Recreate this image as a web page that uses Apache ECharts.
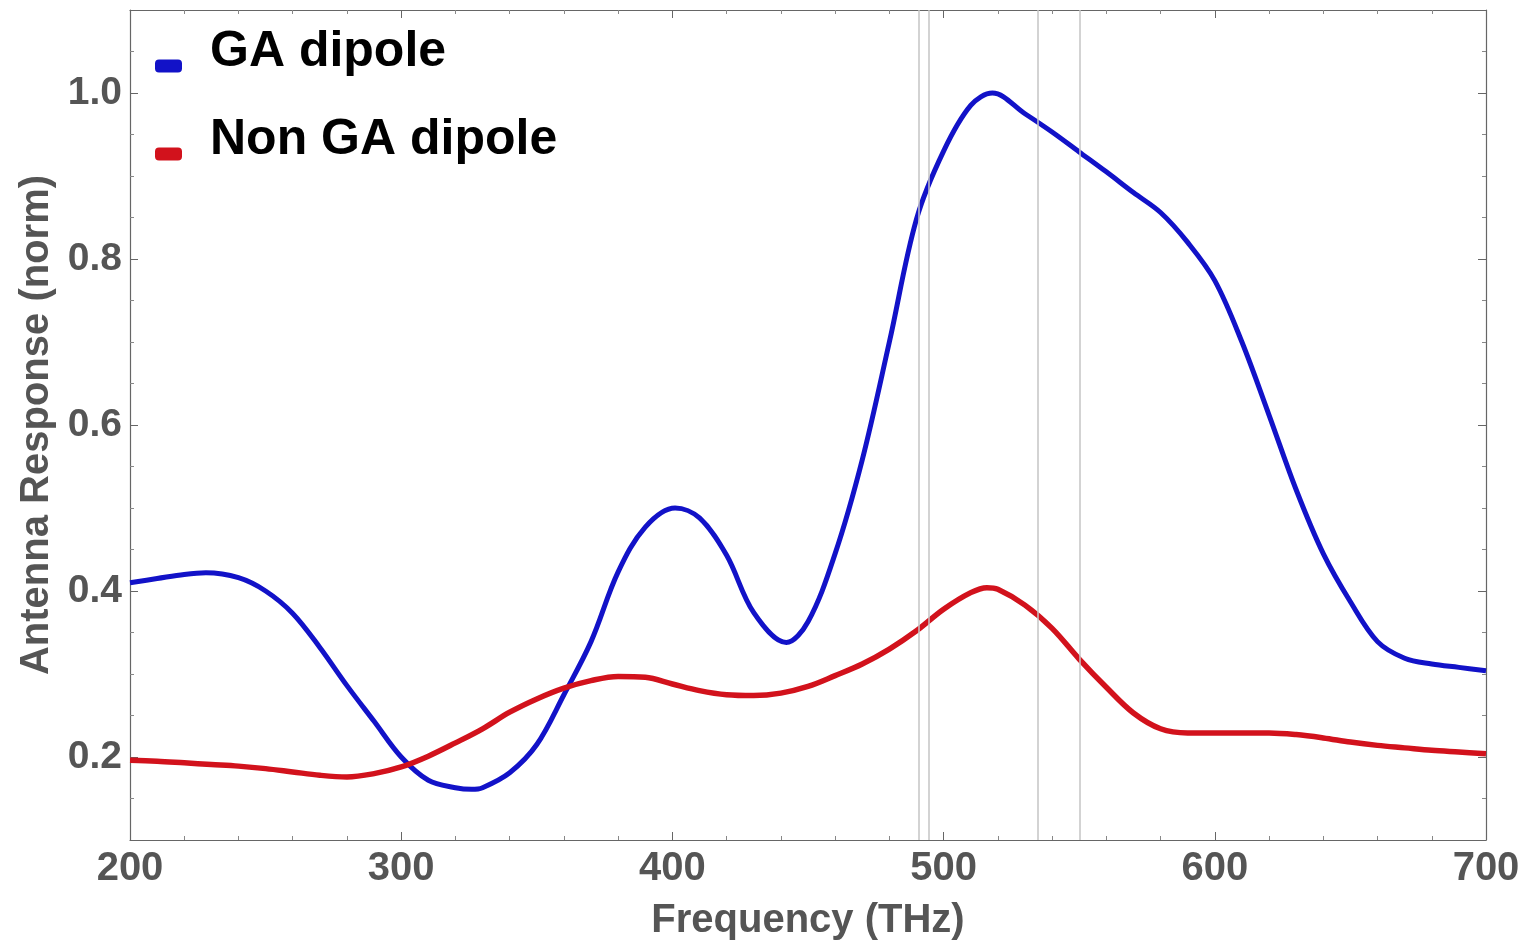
<!DOCTYPE html>
<html><head><meta charset="utf-8">
<script src="https://cdn.jsdelivr.net/npm/echarts@6/dist/echarts.min.js"></script>
<style>html,body{margin:0;padding:0;background:#fff}#c{width:1524px;height:946px}</style>
</head><body><div id="c"></div>
<script>
// ---- data ----
const gaFreq = [200,210,220,228,240,250,260,270,280,290,300,310,320,326,330,340,350,360,370,380,390,401,410,420,430,442,450,460,470,480,490,500,510,518,530,540,550,560,570,580,590,600,610,620,630,640,650,660,670,680,690,700];
const gaDipole = [0.410,0.415,0.420,0.422,0.416,0.400,0.373,0.332,0.286,0.243,0.200,0.172,0.163,0.161,0.163,0.181,0.215,0.275,0.339,0.423,0.477,0.500,0.488,0.443,0.374,0.338,0.363,0.445,0.558,0.700,0.848,0.930,0.985,1.000,0.975,0.953,0.929,0.905,0.880,0.856,0.820,0.774,0.700,0.612,0.522,0.445,0.387,0.339,0.319,0.312,0.308,0.304];
const nonGaFreq = [200,210,220,230,240,250,260,270,280,290,300,310,320,330,340,350,360,370,380,390,400,410,420,430,440,450,460,470,480,490,500,510,516,520,530,540,550,560,570,580,590,600,610,620,630,640,650,660,670,680,690,700];
const nonGaDipole = [0.196,0.195,0.193,0.191,0.189,0.186,0.182,0.178,0.176,0.180,0.188,0.201,0.217,0.234,0.254,0.270,0.283,0.292,0.297,0.296,0.288,0.280,0.275,0.274,0.277,0.285,0.298,0.312,0.330,0.352,0.378,0.398,0.404,0.402,0.383,0.355,0.318,0.284,0.253,0.234,0.229,0.229,0.229,0.229,0.227,0.223,0.218,0.214,0.211,0.208,0.206,0.204];
const markerFreqs = [490.8, 494.6, 534.6, 550.2];
const yMajorTicks = [0.2, 0.4, 0.6, 0.8, 1.0];
const yMinorTicks = [0.15,0.25,0.3,0.35,0.45,0.5,0.55,0.65,0.7,0.75,0.85,0.9,0.95,1.05];
const seriesNames = ['GA dipole', 'Non GA dipole'];

const FONT = 'Liberation Sans, Arial, Helvetica, sans-serif';
const AXIS_COLOR = '#666';
const LABEL_COLOR = '#555';
const BLUE = '#1212c8';
const RED = '#d2121c';
// legend key drawn in the lower part of the item box (like the reference)
const LEGEND_ICON = 'path://M0,0 L0.01,0 M4,28 L23,28 Q27,28 27,32 L27,37 Q27,41 23,41 L4,41 Q0,41 0,37 L0,32 Q0,28 4,28 Z';

const chart = echarts.init(document.getElementById('c'), null, {renderer: 'canvas'});

const xCommon = {
  type: 'value', min: 200, max: 700, interval: 100,
  axisLine: {show: true, onZero: false, lineStyle: {color: AXIS_COLOR, width: 1.2}},
  axisTick: {show: true, inside: true, length: 8, lineStyle: {color: AXIS_COLOR, width: 1}},
  minorTick: {show: true, splitNumber: 5, length: 4, lineStyle: {color: '#888', width: 1}},
  splitLine: {show: false}, minorSplitLine: {show: false}
};
const yCommon = {
  type: 'value', min: 0.1, max: 1.1,
  axisLine: {show: true, onZero: false, lineStyle: {color: AXIS_COLOR, width: 1.2}},
  splitLine: {show: false}
};

chart.setOption({
  animation: false,
  backgroundColor: '#fff',
  grid: {left: 130, right: 38, top: 10, bottom: 104, containLabel: false},
  legend: {
    orient: 'vertical', left: 150, top: 22,
    itemWidth: 27, itemHeight: 41, itemGap: 38,
    icon: LEGEND_ICON,
    itemStyle: {borderWidth: 0},
    data: seriesNames,
    textStyle: {fontSize: 50, fontWeight: 'bold', color: '#000', fontFamily: FONT, padding: [0, 0, 0, 23]}
  },
  xAxis: [
    Object.assign({}, xCommon, {
      position: 'bottom',
      axisLabel: {fontSize: 40, fontWeight: 'bold', color: LABEL_COLOR, fontFamily: FONT, margin: 9},
      name: 'Frequency (THz)', nameLocation: 'middle', nameGap: 61,
      nameTextStyle: {fontSize: 40, fontWeight: 'bold', color: LABEL_COLOR, fontFamily: FONT}
    }),
    Object.assign({}, xCommon, {position: 'top', axisLabel: {show: false}})
  ],
  yAxis: [
    Object.assign({}, yCommon, {
      position: 'left',
      axisLabel: {customValues: yMajorTicks, formatter: v => v.toFixed(1), fontSize: 39, fontWeight: 'bold', color: LABEL_COLOR, fontFamily: FONT, margin: 8},
      axisTick: {customValues: yMajorTicks, show: true, inside: true, length: 8, lineStyle: {color: AXIS_COLOR}},
      name: 'Antenna Response (norm)', nameLocation: 'middle', nameGap: 73,
      nameTextStyle: {fontSize: 40, fontWeight: 'bold', color: LABEL_COLOR, fontFamily: FONT}
    }),
    Object.assign({}, yCommon, {
      position: 'right',
      axisLabel: {show: false},
      axisTick: {customValues: yMajorTicks, show: true, inside: true, length: 8, lineStyle: {color: AXIS_COLOR}}
    }),
    Object.assign({}, yCommon, {
      position: 'left', axisLine: {show: false},
      axisLabel: {show: false},
      axisTick: {customValues: yMinorTicks, show: true, inside: true, length: 4, lineStyle: {color: '#888'}}
    }),
    Object.assign({}, yCommon, {
      position: 'right', axisLine: {show: false},
      axisLabel: {show: false},
      axisTick: {customValues: yMinorTicks, show: true, inside: true, length: 4, lineStyle: {color: '#888'}}
    })
  ],
  series: [
    {
      type: 'line', name: 'markers', data: [], silent: true, z: 1,
      markLine: {
        silent: true, symbol: ['none', 'none'], animation: false,
        label: {show: false},
        lineStyle: {color: '#c4c4c4', width: 1.5, type: 'solid'},
        emphasis: {disabled: true},
        data: markerFreqs.map(f => ({xAxis: f}))
      }
    },
    {
      type: 'line', name: seriesNames[0], z: 3,
      data: gaFreq.map((f, i) => [f, gaDipole[i]]),
      smooth: 0.35, showSymbol: false,
      lineStyle: {color: BLUE, width: 5},
      itemStyle: {color: BLUE}
    },
    {
      type: 'line', name: seriesNames[1], z: 3,
      data: nonGaFreq.map((f, i) => [f, nonGaDipole[i]]),
      smooth: 0.35, showSymbol: false,
      lineStyle: {color: RED, width: 5.5},
      itemStyle: {color: RED}
    }
  ]
});
</script>
</body></html>
